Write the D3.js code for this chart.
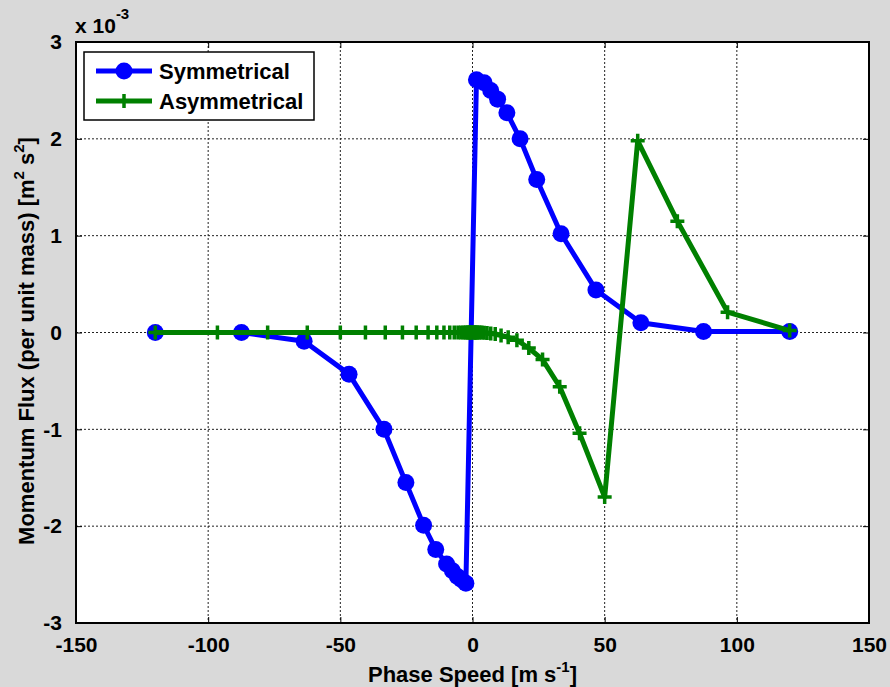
<!DOCTYPE html>
<html>
<head>
<meta charset="utf-8">
<script src="https://cdn.jsdelivr.net/npm/d3@7"></script>
<style>
    html, body { margin: 0; padding: 0; background: #d9d9d9; }
    svg { display: block; font-family: "Liberation Sans", Arial, sans-serif; font-weight: bold; }
</style>
</head>
<body>
<div class="vis"></div>
<script>
(function() {
    // values of the flux are in units of 1e-3 (see "x 10^-3" above the axis)
    const symSpeed = [-120, -87.4, -63.7, -46.7, -33.5, -25.2, -18.5, -13.9, -9.8, -7.6, -5.7, -4.2, -2.5,
        1.5, 4.4, 6.9, 9.5, 13, 18, 24.3, 33.5, 46.7, 63.7, 87.4, 120];
    const symFlux = [0, 0, -0.09, -0.43, -1.0, -1.55, -1.99, -2.24, -2.39, -2.46, -2.52, -2.55, -2.59,
        2.61, 2.58, 2.50, 2.41, 2.27, 2.0, 1.58, 1.02, 0.44, 0.10, 0.01, 0.01];

    const asymSpeed = [-120, -96.5, -77.5, -62.5, -50, -40.5, -33, -26.5, -21.3, -16.8, -13.5, -10.8, -8.6,
        -6.9, -5.5, -4.4, -3.5, -2.8, -2.3, -1.8, -1.4, -1.1, -0.9, -0.7, -0.5,
        0.5, 0.7, 0.9, 1.1, 1.4, 1.8, 2.3, 2.8, 3.5, 4.4, 5.5, 6.9, 8.6, 10.8, 13.5, 16.8,
        21.3, 26.5, 33, 40.5, 50, 62.5, 77.5, 96.5, 120];
    const asymFlux = [0, 0, 0, 0, 0, 0, 0, 0, 0, 0, 0, 0, 0,
        0, 0, 0, 0, 0, 0, 0, 0, 0, 0, 0, 0,
        0, 0, 0, 0, 0, 0, 0, 0, 0, -0.002, -0.005, -0.01, -0.016, -0.03, -0.05, -0.08,
        -0.16, -0.28, -0.56, -1.04, -1.70, 1.98, 1.15, 0.21, 0.02];

    const xTicks = [-150, -100, -50, 0, 50, 100, 150];
    const yTicks = [-3, -2, -1, 0, 1, 2, 3];

    const seriesNames = ["Symmetrical", "Asymmetrical"];
    const seriesColors = ["#0000ff", "#008000"];

    const dimensions = {
        width: 890,
        height: 687,
        margin: {
            left: 76,
            right: 21,
            top: 42,
            bottom: 64,
        },
    }
    const innerW = dimensions.width - dimensions.margin.left - dimensions.margin.right;
    const innerH = dimensions.height - dimensions.margin.top - dimensions.margin.bottom;

    const svg = d3.select(".vis").append("svg")
        .attr("width", dimensions.width)
        .attr("height", dimensions.height);

    svg.append("rect")
        .attr("width", dimensions.width)
        .attr("height", dimensions.height)
        .attr("fill", "#d9d9d9");

    const g = svg.append("g")
        .attr("transform", `translate(${dimensions.margin.left}, ${dimensions.margin.top})`);

    const x = d3.scaleLinear().domain([-150, 150]).range([0, innerW]);
    const y = d3.scaleLinear().domain([-3, 3]).range([innerH, 0]);

    g.append("rect")
        .attr("width", innerW)
        .attr("height", innerH)
        .attr("fill", "white");

    // dotted grid
    g.selectAll(".vgrid")
        .data(xTicks.slice(1, -1))
        .enter().append("line")
        .attr("x1", d => x(d)).attr("x2", d => x(d))
        .attr("y1", 0).attr("y2", innerH)
        .attr("stroke", "#222")
        .attr("stroke-width", 1)
        .attr("stroke-dasharray", "2,2");

    g.selectAll(".hgrid")
        .data(yTicks.slice(1, -1))
        .enter().append("line")
        .attr("y1", d => y(d)).attr("y2", d => y(d))
        .attr("x1", 0).attr("x2", innerW)
        .attr("stroke", "#222")
        .attr("stroke-width", 1)
        .attr("stroke-dasharray", "2,2");

    // axes with inward ticks, plain hyphen minus like matlab
    const fmt = d => String(d);
    const xAxis = g.append("g")
        .attr("transform", `translate(0, ${innerH})`)
        .call(d3.axisBottom(x).tickValues(xTicks).tickFormat(fmt).tickSizeInner(-6).tickSizeOuter(0).tickPadding(14));
    const xTop = g.append("g")
        .call(d3.axisTop(x).tickValues(xTicks).tickSizeInner(-6).tickSizeOuter(0).tickFormat(""));
    const yAxis = g.append("g")
        .call(d3.axisLeft(y).tickValues(yTicks).tickFormat(fmt).tickSizeInner(-6).tickSizeOuter(0).tickPadding(14));
    const yRight = g.append("g")
        .attr("transform", `translate(${innerW}, 0)`)
        .call(d3.axisRight(y).tickValues(yTicks).tickSizeInner(-6).tickSizeOuter(0).tickFormat(""));

    [xAxis, xTop, yAxis, yRight].forEach(a => {
        a.select(".domain").remove();
        a.selectAll("line").attr("stroke", "#000").attr("stroke-width", 1);
    });
    [xAxis, yAxis].forEach(a => {
        a.selectAll("text")
            .attr("font-size", 21).attr("font-family", "Liberation Sans, Arial, sans-serif")
            .attr("font-weight", "bold").attr("fill", "#000");
    });

    g.append("rect")
        .attr("width", innerW)
        .attr("height", innerH)
        .attr("fill", "none")
        .attr("stroke", "#000")
        .attr("stroke-width", 2);

    // series
    const symData = symSpeed.map((s, i) => [s, symFlux[i]]);
    const asymData = asymSpeed.map((s, i) => [s, asymFlux[i]]);
    const line = d3.line().x(d => x(d[0])).y(d => y(d[1]));
    const plusPath = "M-7,0H7M0,-7V7";

    g.append("path")
        .datum(symData)
        .attr("d", line)
        .attr("fill", "none")
        .attr("stroke", seriesColors[0])
        .attr("stroke-width", 5)
        .attr("stroke-linejoin", "round");

    g.selectAll(".sym")
        .data(symData)
        .enter().append("circle")
        .attr("cx", d => x(d[0]))
        .attr("cy", d => y(d[1]))
        .attr("r", 8.5)
        .attr("fill", seriesColors[0]);

    g.append("path")
        .datum(asymData)
        .attr("d", line)
        .attr("fill", "none")
        .attr("stroke", seriesColors[1])
        .attr("stroke-width", 5)
        .attr("stroke-linejoin", "round");

    g.selectAll(".asym")
        .data(asymData)
        .enter().append("path")
        .attr("d", plusPath)
        .attr("transform", d => `translate(${x(d[0])}, ${y(d[1])})`)
        .attr("stroke", seriesColors[1])
        .attr("stroke-width", 3.5)
        .attr("fill", "none");

    // legend
    const legend = g.append("g").attr("transform", "translate(8, 10)");
    legend.append("rect")
        .attr("width", 230)
        .attr("height", 68)
        .attr("fill", "white")
        .attr("stroke", "#000")
        .attr("stroke-width", 1.5);

    seriesNames.forEach((name, i) => {
        const ly = 19 + i * 30;
        legend.append("line")
            .attr("x1", 12).attr("x2", 68)
            .attr("y1", ly).attr("y2", ly)
            .attr("stroke", seriesColors[i])
            .attr("stroke-width", 5);
        if (i === 0) {
            legend.append("circle")
                .attr("cx", 40).attr("cy", ly).attr("r", 8.5)
                .attr("fill", seriesColors[i]);
        } else {
            legend.append("path")
                .attr("d", plusPath)
                .attr("transform", `translate(40, ${ly})`)
                .attr("stroke", seriesColors[i])
                .attr("stroke-width", 3.5);
        }
        legend.append("text")
            .attr("x", 75)
            .attr("y", ly + 8)
            .attr("font-size", 22)
            .text(name);
    });

    // exponent label
    const expo = svg.append("text")
        .attr("x", 75)
        .attr("y", 33)
        .attr("font-size", 21);
    expo.append("tspan").text("x 10");
    expo.append("tspan").attr("dy", -14).attr("font-size", 15).text("-3");

    // axis titles
    const xl = svg.append("text")
        .attr("x", dimensions.margin.left + x(0))
        .attr("y", 682)
        .attr("text-anchor", "middle")
        .attr("font-size", 22);
    xl.append("tspan").text("Phase Speed [m s");
    xl.append("tspan").attr("dy", -10).attr("font-size", 15).text("-1");
    xl.append("tspan").attr("dy", 10).text("]");

    const yl = svg.append("text")
        .attr("transform", "translate(34, 341) rotate(-90)")
        .attr("text-anchor", "middle")
        .attr("font-size", 22);
    yl.append("tspan").text("Momentum Flux (per unit mass) [m");
    yl.append("tspan").attr("dy", -10).attr("font-size", 15).text("2");
    yl.append("tspan").attr("dy", 10).text(" s");
    yl.append("tspan").attr("dy", -10).attr("font-size", 15).text("2");
    yl.append("tspan").attr("dy", 10).text("]");
})()
</script>
</body>
</html>
